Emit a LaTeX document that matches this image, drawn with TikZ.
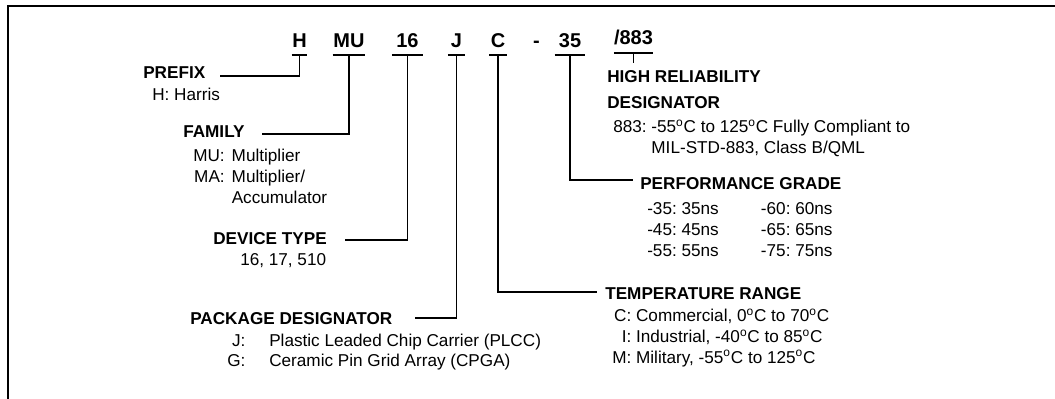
\documentclass[tikz,border=0pt]{standalone}
\usepackage{fontspec}
\setmainfont{Liberation Sans}
\usepackage{tikz}
\usetikzlibrary{positioning,calc}

\newcommand{\dg}{\textsuperscript{o}}

\begin{document}
\begin{tikzpicture}[
  x=0.025cm,y=-0.025cm,
  key/.style={font=\fontsize{14.2}{16}\selectfont\bfseries,inner sep=0pt,anchor=south,text depth=5pt,minimum width=#1},
  lbl/.style={font=\fontsize{12.2}{14.6}\selectfont\bfseries,inner sep=0pt,anchor=base west},
  txt/.style={font=\fontsize{12.2}{14.6}\selectfont,inner sep=0pt,anchor=base west},
  lead/.style={line width=1.05pt},
  frame/.style={line width=1.9pt},
]
\useasboundingbox (0,0) rectangle (1055,399);

% === FRAME (top and left edge only) ===
\draw[frame] (8,399) -- (8,6) -- (1055,6);

% === PART NUMBER ===
\node[key=10.7pt] (kH)   at (299.5,55) {H};
\node[key=22.8pt] (kMU)  at (349,55)   {MU};
\node[key=22pt]   (k16)  at (407.5,55) {16};
\node[key=12pt]   (kJ)   at (456.5,55) {J};
\node[key=12pt]   (kC)   at (498,55)   {C};
\node[key=0pt]    (kdsh) at (536.5,55) {-};
\node[key=21.3pt] (k35)  at (570,55)   {35};
\node[key=26.3pt,text depth=6pt] (k883) at (633.5,53) {/883};

\foreach \k in {kH,kMU,k16,kJ,kC,k35,k883}
  \draw[lead] (\k.south west) -- (\k.south east);

% === LEFT SIDE ===
\node[lbl] (pfx) at (143,79) {PREFIX};
\node[txt] (pfxd) at (152,101) {H: Harris};
\coordinate (pfxL) at (220,76);

\node[lbl] (fam) at (183,138) {FAMILY};
\node[txt] (famd) at (193,162) {\begin{tabular}[t]{@{}r@{\hspace{5pt}}l@{}}
MU: & Multiplier\\
MA: & Multiplier/\\
    & Accumulator
\end{tabular}};
\coordinate (famL) at (262,134);

\node[lbl] (dev) at (213,245) {DEVICE TYPE};
\node[txt] (devd) at (240,266) {16, 17, 510};
\coordinate (devL) at (345,240);

\node[lbl] (pkg) at (190,325) {PACKAGE DESIGNATOR};
\node[txt] (pkgd) at (227,347) {\begin{tabular}[t]{@{}r@{\hspace{17pt}}l@{}}
J: & Plastic Leaded Chip Carrier (PLCC)\\[-1pt]
G: & Ceramic Pin Grid Array (CPGA)
\end{tabular}};
\coordinate (pkgL) at (415,318);

% === RIGHT SIDE ===
\node[lbl] (hrel) at (607,83) {\begin{tabular}[t]{@{}l@{}}
HIGH RELIABILITY\\[3.5pt]
DESIGNATOR
\end{tabular}};
\node[txt] (hreld) at (613,133) {\begin{tabular}[t]{@{}r@{\ }l@{}}
883: & -55\dg C to 125\dg C Fully Compliant to\\
     & MIL-STD-883, Class B/QML
\end{tabular}};
\coordinate (hrelT) at (633.5,63);

\node[lbl] (prf) at (640,190) {PERFORMANCE GRADE};
\node[txt] (prfd) at (647,215) {\begin{tabular}[t]{@{}l@{\ }l@{\hspace{30pt}}l@{\ }l@{}}
-35: & 35ns & -60: & 60ns\\
-45: & 45ns & -65: & 65ns\\
-55: & 55ns & -75: & 75ns
\end{tabular}};
\coordinate (prfL) at (633,180);

\node[lbl] (tmp) at (605,300) {TEMPERATURE RANGE};
\node[txt] (tmpd) at (612,322) {\begin{tabular}[t]{@{}r@{\ }l@{}}
C: & Commercial, 0\dg C to 70\dg C\\
I: & Industrial, -40\dg C to 85\dg C\\
M: & Military, -55\dg C to 125\dg C
\end{tabular}};
\coordinate (tmpL) at (597,292);

% === LEADERS ===
\draw[lead] (kH.south)  |- (pfxL);
\draw[lead] (kMU.south) |- (famL);
\draw[lead] (k16.south) |- (devL);
\draw[lead] (kJ.south)  |- (pkgL);
\draw[lead] (kC.south)  |- (tmpL);
\draw[lead] (k35.south) |- (prfL);
\draw[lead] (k883.south) -- (hrelT);

\end{tikzpicture}
\end{document}
